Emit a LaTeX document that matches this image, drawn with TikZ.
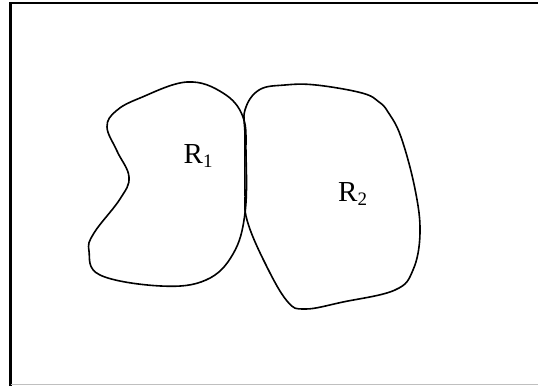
\documentclass[tikz,border=0pt]{standalone}
\usepackage{fontspec}
\setmainfont{Liberation Serif}
\newcommand{\reglabel}[1]{\fontsize{29}{30}\selectfont R\raisebox{-4pt}{\fontsize{19}{19}\selectfont #1}}
\begin{document}
\begin{tikzpicture}[x=1pt,y=-1pt,
  blob/.style={line width=1.6pt, line join=round},
  lab/.style={inner sep=0pt, anchor=base west}]
\useasboundingbox (0,0) rectangle (538,386);
% frame
\draw[line width=2.2pt] (10.5,386) -- (10.5,3) -- (538,3);
\draw[gray!50, line width=0.8pt] (10.5,384.8) -- (538,384.8);
% region R1
\draw[blob] plot[smooth cycle, tension=0.65] coordinates {
 (187,82) (140,98) (116,111) (107,127) (117,151) (129,177) (120,199)
 (94,233) (89,251) (100,275) (161,286) (206,280) (233,254) (245,213)
 (246,154) (243,117) (223,93)};
% region R2
\draw[blob] plot[smooth cycle, tension=0.65] coordinates {
 (245,110) (259,90) (285,85) (316,85) (362,93) (379,102) (388,112) (401,137)
 (415,189) (420,233) (413,270) (395,290) (343,302) (305,309) (287,301)
 (264,261) (247,220) (245,192) (245,137)};
\node[lab] (r1) at (183.5,163) {\reglabel{1}};
\node[lab] (r2) at (338,201.8) {\reglabel{2}};
\end{tikzpicture}
\end{document}
